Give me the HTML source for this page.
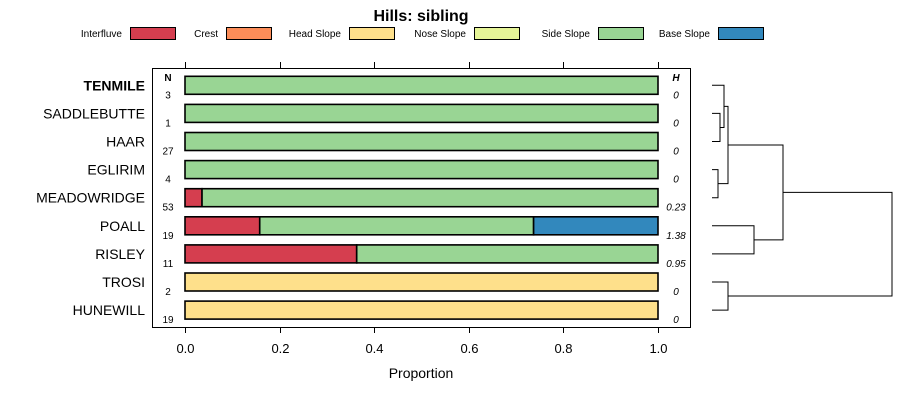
<!DOCTYPE html>
<html><head><meta charset="utf-8"><style>
body{margin:0;background:#fff;font-family:"Liberation Sans",sans-serif;}
svg text{font-family:"Liberation Sans",sans-serif;}
</style></head><body>
<svg id="c" width="900" height="400" xmlns="http://www.w3.org/2000/svg">
<text x="421" y="21" text-anchor="middle" font-size="16" font-weight="bold">Hills: sibling</text>
<g id="legend"></g>
<rect x="152.5" y="68.5" width="538" height="259" fill="none" stroke="#000"/>
<g id="bars"></g><g id="axis"></g><g id="dend"></g>
<text x="421" y="378" text-anchor="middle" font-size="14">Proportion</text>
<text x="168" y="81" text-anchor="middle" font-size="10" font-weight="bold">N</text>
<text x="676" y="81" text-anchor="middle" font-size="10" font-weight="bold" font-style="italic">H</text>
</svg>
<script>
const categories=["TENMILE","SADDLEBUTTE","HAAR","EGLIRIM","MEADOWRIDGE","POALL","RISLEY","TROSI","HUNEWILL"];
const nValues=[3,1,27,4,53,19,11,2,19];
const hValues=["0","0","0","0","0.23","1.38","0.95","0","0"];
const classes=["Interfluve","Crest","Head Slope","Nose Slope","Side Slope","Base Slope"];
const colors=["#d53e4f","#fc8d59","#fee08b","#e6f598","#99d594","#3288bd"];
const interfluve=[0,0,0,0,0.036,0.158,0.363,0,0];
const crest=[0,0,0,0,0,0,0,0,0];
const headSlope=[0,0,0,0,0,0,0,1,1];
const noseSlope=[0,0,0,0,0,0,0,0,0];
const sideSlope=[1,1,1,1,0.964,0.579,0.637,0,0];
const baseSlope=[0,0,0,0,0,0.263,0,0,0];
const ticks=[0,0.2,0.4,0.6,0.8,1.0];
const series=[interfluve,crest,headSlope,noseSlope,sideSlope,baseSlope];
const NS="http://www.w3.org/2000/svg";
const X=v=>185+v*473, Y=i=>85.3+i*28.1;
function mk(t,a,p){const e=document.createElementNS(NS,t);for(const k in a)e.setAttribute(k,a[k]);p.appendChild(e);return e;}
const bars=document.getElementById('bars'),axis=document.getElementById('axis'),leg=document.getElementById('legend'),dend=document.getElementById('dend');
const legX=[130,226,349,474,598,718];
classes.forEach((c,j)=>{
 const r=mk('rect',{x:legX[j]+0.5,y:27.5,width:45,height:12,fill:colors[j],stroke:'#000'},leg);
 
 
 const t=mk('text',{x:legX[j]-8,y:37,'text-anchor':'end','font-size':'10'},leg);t.textContent=c;
 
 
});
categories.forEach((c,i)=>{
 let cum=0;const y=Y(i);
 series.forEach((s,j)=>{const v=s[i];if(v>0){
  const r=mk('rect',{x:X(cum),y:y-9,width:X(cum+v)-X(cum),height:18,fill:colors[j],stroke:'#000','stroke-width':1.6},bars);
  
  
  cum+=v;}});
 const l=mk('text',{x:145,y:y+5,'text-anchor':'end','font-size':'14','font-weight':i==0?'bold':'normal'},axis);l.textContent=c;
 
 
 const n=mk('text',{x:168,y:y+13,'text-anchor':'middle','font-size':'10'},axis);n.textContent=nValues[i];
 
 
 const h=mk('text',{x:676,y:y+13,'text-anchor':'middle','font-size':'10','font-style':'italic'},axis);h.textContent=hValues[i];
 
 
});
ticks.forEach(t=>{
 const x=Math.round(X(t))+0.5;
 mk('line',{x1:x,x2:x,y1:327,y2:333,stroke:'#000'},axis);
 mk('line',{x1:x,x2:x,y1:62,y2:68,stroke:'#000'},axis);
 const l=mk('text',{x:x,y:353,'text-anchor':'middle','font-size':'13'},axis);l.textContent=t.toFixed(1);
 
 
});
function link(x0a,ya,x0b,yb,xm){mk('path',{d:`M${x0a} ${ya}H${xm}V${yb}H${x0b}`,fill:'none',stroke:'#000','stroke-width':1},dend);return [xm,(ya+yb)/2];}
const L=712;
const sh=link(L,Y(1),L,Y(2),720);
const t1=link(L,Y(0),sh[0],sh[1],724);
const em=link(L,Y(3),L,Y(4),718);
const g1=link(t1[0],t1[1],em[0],em[1],728);
const pr=link(L,Y(5),L,Y(6),754);
const g2=link(g1[0],g1[1],pr[0],pr[1],783);
const th=link(L,Y(7),L,Y(8),728);
link(g2[0],g2[1],th[0],th[1],892);
</script>
</body></html>
